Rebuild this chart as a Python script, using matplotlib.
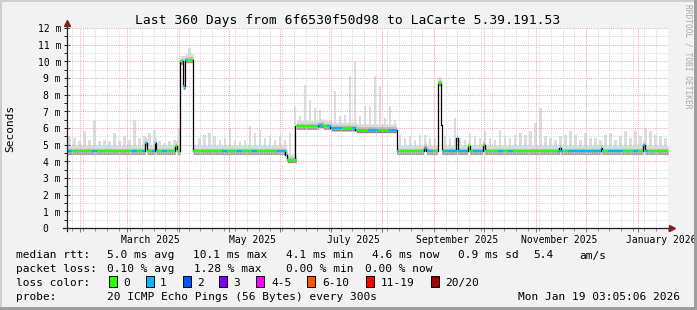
import datetime as dt
import numpy as np
import matplotlib
matplotlib.use("Agg")
import matplotlib.pyplot as plt
from matplotlib.collections import LineCollection
from matplotlib.patches import Rectangle

W, H = 697, 310
start = dt.datetime(2025, 1, 24, 3, 5, 6)
span = 360  # days shown

# median rtt (ms): day where a level starts, and the level
med_days = [0, 46.8, 48.0, 52.8, 53.4, 64.8, 66.0, 67.8, 69.6, 70.8, 75.6,
            130.8, 132.0, 136.8, 150.6, 153.6, 157.8, 172.8, 197.4,
            213.6, 214.8, 222.0, 223.8, 224.4, 232.8, 234.0, 240.0, 241.2,
            249.0, 250.2, 294.6, 295.8, 319.8, 320.4, 345.0, 346.2]
med_vals = [4.6, 5.1, 4.6, 5.1, 4.6, 4.9, 4.6, 10.0, 8.5, 10.1, 4.6,
            4.4, 4.1, 6.1, 6.2, 6.1, 6.0, 5.9, 4.6,
            4.8, 4.6, 8.7, 6.2, 4.6, 5.4, 4.6, 4.9, 4.6,
            5.0, 4.6, 4.8, 4.6, 4.8, 4.6, 5.0, 4.6]

# highest ping (smoke top) per 3-day bin, ms
smoke_hi = [5.5, 5.4, 5.2, 5.8, 5.3, 6.4, 5.2, 5.3, 5.2, 5.7,
            5.2, 5.5, 5.3, 6.5, 5.4, 5.5, 5.7, 5.9, 5.2, 5.1,
            5.2, 5.3, 6.0, 10.3, 10.8, 5.0, 5.4, 5.6, 5.7, 5.5,
            5.3, 5.4, 6.0, 5.3, 5.2, 5.3, 6.1, 5.7, 5.9, 5.4,
            5.5, 5.3, 5.5, 5.3, 5.7, 7.3, 6.7, 8.6, 7.7, 7.2,
            7.1, 6.5, 6.5, 8.2, 6.7, 6.8, 9.1, 10.0, 6.7, 7.3,
            7.3, 9.1, 8.5, 6.6, 7.3, 6.5, 5.6, 5.4, 5.5, 5.3,
            5.6, 5.6, 5.4, 5.4, 9.0, 5.5, 5.4, 6.6, 5.4, 5.3,
            5.7, 5.5, 5.4, 5.8, 5.4, 5.3, 5.9, 5.5, 5.4, 5.6,
            5.7, 5.6, 5.8, 6.3, 7.2, 5.5, 5.4, 5.3, 5.5, 5.6,
            5.8, 5.6, 5.3, 5.7, 5.4, 5.4, 5.3, 5.6, 5.7, 5.3,
            5.5, 5.8, 5.4, 5.8, 5.5, 6.0, 5.8, 5.6, 5.5, 5.4]

# lost pings per 3-day bin
loss = [1, 0, 0, 0, 0, 1, 0, 0, 0, 0,
        0, 0, 0, 1, 0, 1, 0, 1, 0, 1,
        0, 0, 0, 1, 0, 0, 0, 0, 0, 0,
        0, 1, 0, 0, 1, 0, 0, 1, 0, 0,
        0, 0, 1, 1, 0, 0, 0, 0, 0, 0,
        1, 0, 1, 1, 1, 0, 0, 1, 0, 0,
        1, 1, 0, 0, 1, 1, 0, 0, 0, 0,
        0, 1, 1, 0, 0, 1, 1, 1, 1, 1,
        0, 1, 1, 0, 0, 0, 1, 0, 1, 0,
        0, 0, 0, 0, 0, 0, 0, 0, 1, 0,
        1, 1, 1, 1, 1, 1, 1, 0, 1, 1,
        1, 0, 0, 1, 0, 1, 0, 0, 0, 0]

loss_colors = ['#26ff00', '#00b8ff', '#0059ff', '#7e00ff',
               '#ff00ff', '#ff5500', '#ff0000', '#a10000']
loss_labels = ['0', '1', '2', '3', '4-5', '6-10', '11-19', '20/20']

MONO = 'DejaVu Sans Mono'


def px(x, y):
    return x / W, 1 - y / H


def day_of(d):
    return (d - start).total_seconds() / 86400


fig = plt.figure(figsize=(W / 100, H / 100), dpi=100, facecolor='#f2f2f2')
ax = fig.add_axes([67 / W, 1 - 228 / H, 601 / W, 200 / H])
ax.set_xlim(0, span)
ax.set_ylim(0, 12)
ax.set_facecolor('white')
for s in ax.spines.values():
    s.set_visible(False)

# grid, dotted
dot = (0, (1, 1.2))
d = dt.datetime(2025, 1, 27)
mondays = []
while d < start + dt.timedelta(days=span):
    mondays.append(day_of(d))
    d += dt.timedelta(days=7)
months = [day_of(dt.datetime(2025, m, 1)) for m in range(2, 13)]
months.append(day_of(dt.datetime(2026, 1, 1)))
gkw = dict(lw=0.72, ls=dot)
for x in mondays:
    ax.axvline(x, color='#d6d6d6', zorder=2.5, **gkw)
for v in np.arange(0.5, 12, 1.0):
    ax.axhline(v, color='#d6d6d6', zorder=2.5, **gkw)
for x in months:
    ax.axvline(x, color='#f2a6a6', zorder=2.6, **gkw)
for v in range(1, 13):
    ax.axhline(v, color='#f2a6a6', zorder=2.6, **gkw)

# median evaluated per pixel column
step = span / 600
xs = np.arange(0, span, step)
med = np.array(med_vals)[np.searchsorted(med_days, xs, side='right') - 1]
bins = np.minimum((xs // 3).astype(int), len(smoke_hi) - 1)
hi = np.array(smoke_hi)

# smoke
xe = np.append(xs, span)
mede = np.append(med, med[-1])
ax.fill_between(xe, mede - 0.2, mede + 0.35, step='post', color='#dcdcdc', lw=0, zorder=1)
centers = np.arange(len(smoke_hi)) * 3 + 1.5
base = np.array(med_vals)[np.searchsorted(med_days, centers, side='right') - 1]
ax.bar(centers, np.maximum(hi - base, 0), bottom=base, width=1.5,
       color='#dcdcdc', lw=0, zorder=1)
ax.fill_between(xe, mede - 0.1, mede + 0.18, step='post', color='#bdbdbd', lw=0, zorder=1.2)
ax.fill_between(xe, mede - 0.17, mede - 0.06, step='post', color='#8a8a8a', lw=0, zorder=1.3)

# median line, coloured by loss
for k in range(1, len(med_days)):
    ax.plot([med_days[k], med_days[k]], [med_vals[k - 1], med_vals[k]],
            color='black', lw=0.9, zorder=3)
segs = [[(x, m), (x + step, m)] for x, m in zip(xs, med)]
cols = [loss_colors[loss[b]] for b in bins]
ax.add_collection(LineCollection(segs, colors=cols, linewidths=1.6, zorder=3.2))

# ticks
ax.set_yticks(range(13))
ax.set_yticks(np.arange(0.5, 12, 1.0), minor=True)
ax.set_yticklabels([])
ax.set_xticks(months)
ax.set_xticks(mondays, minor=True)
ax.set_xticklabels([])
ax.tick_params(axis='y', which='major', direction='inout', length=5, width=0.72, color='#1f1f1f')
ax.tick_params(axis='y', which='minor', direction='out', length=2, width=0.72, color='#1f1f1f')
ax.tick_params(axis='x', which='major', direction='out', length=3, width=0.72, color='#de4f4f')
ax.tick_params(axis='x', which='minor', direction='out', length=2, width=0.72, color='#8f8f8f')

# axes with arrows
ax.plot([-2.4, 361], [0, 0], color='#1f1f1f', lw=0.9, clip_on=False, zorder=5)
ax.plot([0, 0], [-0.15, 12.2], color='#1f1f1f', lw=0.9, clip_on=False, zorder=5)
ax.plot([362.2], [0], marker='>', ms=4.5, color='#801f1f', clip_on=False, zorder=6)
ax.plot([0], [12.3], marker='^', ms=4.5, color='#801f1f', clip_on=False, zorder=6)

# y labels
for v in range(13):
    lab = '%d m' % v if v else '0  '
    fig.text(*px(61, 228 - v * 200 / 12 + 1.5), lab, ha='right', va='center',
             family=MONO, fontsize=7)

# x labels, centred mid-month
for y_, m_, name in [(2025, 3, 'March 2025'), (2025, 5, 'May 2025'), (2025, 7, 'July 2025'),
                     (2025, 9, 'September 2025'), (2025, 11, 'November 2025'),
                     (2026, 1, 'January 2026')]:
    xd = day_of(dt.datetime(y_, m_, 15))
    ax.text(xd, -0.72, name, ha='center', va='center', family=MONO, fontsize=7)

fig.text(*px(348, 24), 'Last 360 Days from 6f6530f50d98 to LaCarte 5.39.191.53',
         ha='center', va='baseline', family=MONO, fontsize=9.4)
fig.text(*px(10, 128), 'Seconds', rotation=90, ha='center', va='center',
         family=MONO, fontsize=8)
fig.text(*px(688, 4), 'RRDTOOL / TOBI OETIKER', rotation=270, ha='center', va='top',
         family=MONO, fontsize=5.7, color='#a8a8a8')

# legend
rows = [
    (258.5, [(16, 'median rtt:'), (107, '5.0 ms avg'), (193, '10.1 ms max'),
             (286, '4.1 ms min'), (372, '4.6 ms now'), (458, '0.9 ms sd'),
             (533, '5.4'), (579, 'am/s')]),
    (272, [(16, 'packet loss:'), (107, '0.10 % avg'), (194, '1.28 % max'),
           (286, '0.00 % min'), (365, '0.00 % now')]),
    (286, [(16, 'loss color:')]),
    (300, [(16, 'probe:'), (107, '20 ICMP Echo Pings (56 Bytes) every 300s')]),
]
for yb, items in rows:
    for xb, s in items:
        fig.text(*px(xb, yb), s, ha='left', va='baseline', family=MONO, fontsize=8)
fig.text(*px(680, 300), 'Mon Jan 19 03:05:06 2026', ha='right', va='baseline',
         family=MONO, fontsize=8)

box_x = [109, 146, 183, 219, 256, 307, 366, 431]
lab_x = [123, 160, 197, 233, 271, 322, 381, 445]
for bx, lx, c, lab in zip(box_x, lab_x, loss_colors, loss_labels):
    fx, fy = px(bx, 287)
    fig.add_artist(Rectangle((fx, fy), 8 / W, 11 / H, transform=fig.transFigure,
                             facecolor=c, edgecolor='black', lw=0.7))
    fig.text(*px(lx, 286), lab, ha='left', va='baseline', family=MONO, fontsize=8)

# 3d frame
fig.add_artist(Rectangle((0, 1 - 2 / H), 1, 2 / H, transform=fig.transFigure,
                         facecolor='#cfcfcf', lw=0))
fig.add_artist(Rectangle((0, 0), 2 / W, 1, transform=fig.transFigure,
                         facecolor='#cfcfcf', lw=0))
fig.add_artist(Rectangle((0, 0), 1, 3 / H, transform=fig.transFigure,
                         facecolor='#9e9e9e', lw=0))
fig.add_artist(Rectangle((1 - 3 / W, 0), 3 / W, 1, transform=fig.transFigure,
                         facecolor='#9e9e9e', lw=0))

fig.savefig('out.png', dpi=100, facecolor=fig.get_facecolor())
